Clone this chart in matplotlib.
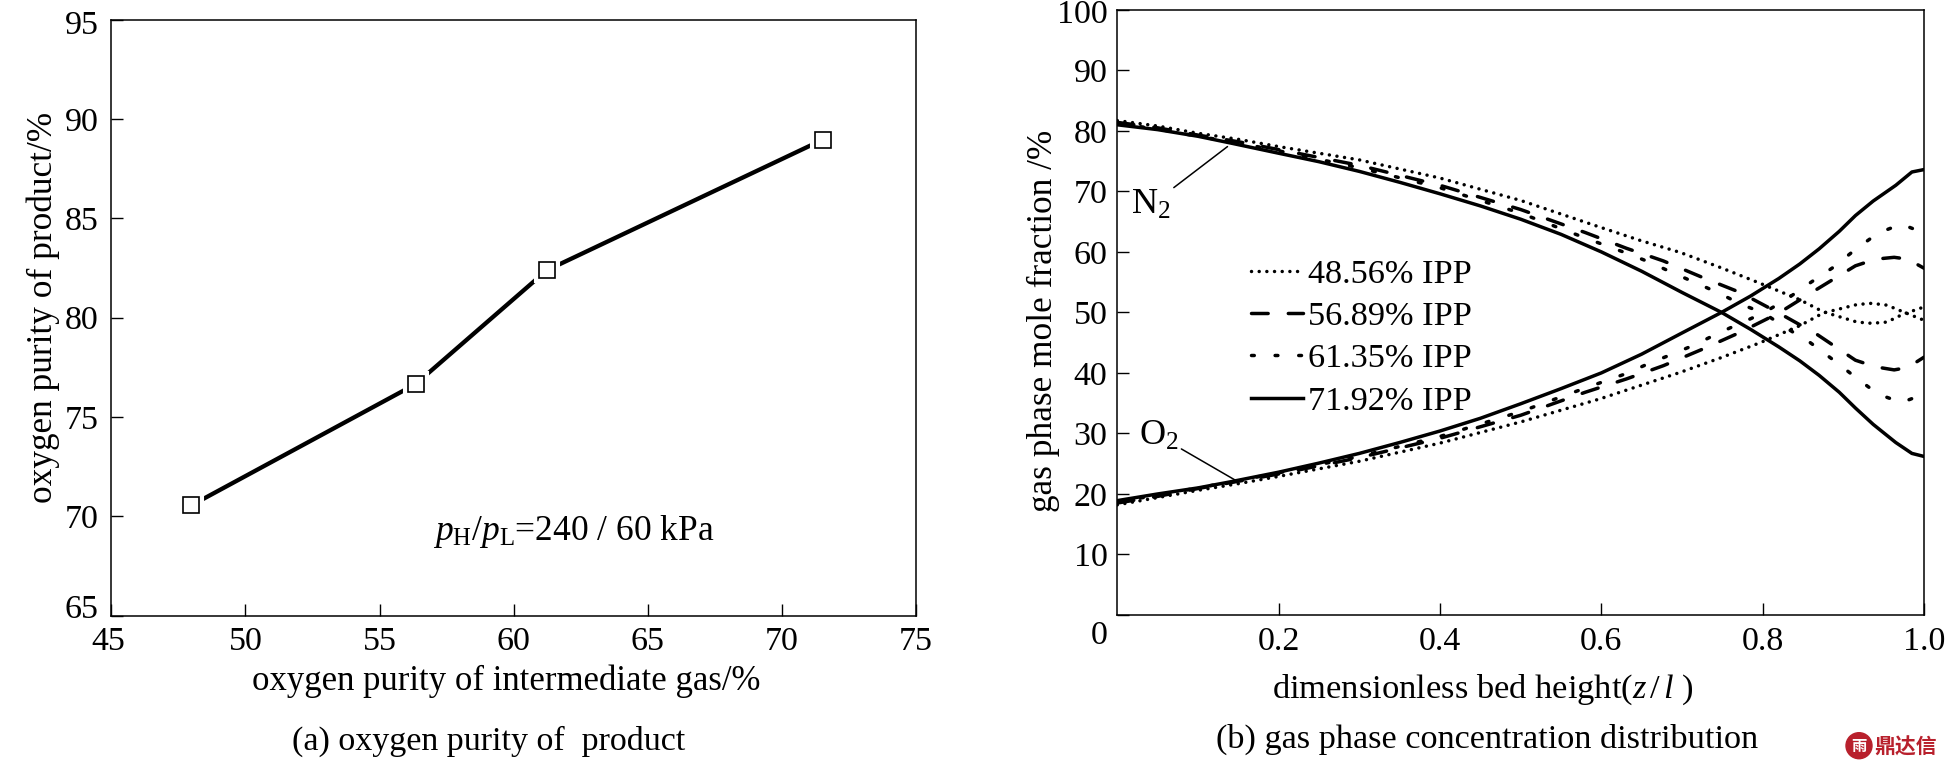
import matplotlib
matplotlib.use("Agg")
from matplotlib import pyplot as plt
from matplotlib.patches import Circle
from matplotlib.transforms import ScaledTranslation

plt.rcParams['font.family'] = ['Liberation Serif', 'Noto Sans CJK SC']
plt.rcParams['mathtext.fontset'] = 'custom'
plt.rcParams['mathtext.rm'] = 'Liberation Serif'
plt.rcParams['mathtext.it'] = 'Liberation Serif:italic'

W, H = 1948, 768

# (a) oxygen purity of product
inter_o2 = [47.98, 56.35, 61.23, 71.53]
product_o2 = [70.55, 76.66, 82.38, 88.96]

# (b) 48.56% IPP
x_486_n2 = [0.0, 0.05, 0.1, 0.15, 0.2, 0.3, 0.4, 0.5, 0.598, 0.648, 0.698, 0.748, 0.797, 0.846, 0.875, 0.917, 0.935, 0.954, 0.974, 1.0]
n2_486 = [81.7, 80.8, 79.6, 78.6, 77.4, 75.2, 72.2, 68.5, 64.1, 61.9, 59.9, 57.4, 54.8, 52.1, 50.1, 48.4, 48.2, 48.4, 49.7, 50.9]
o2_486 = [18.2, 19.4, 20.6, 21.7, 22.9, 25.4, 28.4, 31.9, 35.7, 37.9, 40.1, 42.5, 45.0, 47.8, 49.9, 51.3, 51.5, 51.2, 50.1, 48.7]

# (b) 56.89% IPP
x_569 = [0.0, 0.05, 0.1, 0.15, 0.2, 0.3, 0.4, 0.5, 0.58, 0.631, 0.677, 0.725, 0.772, 0.82, 0.867, 0.915, 0.94, 0.963, 0.98, 1.0]
n2_569 = [81.4, 80.5, 79.3, 78.2, 76.9, 74.3, 71.0, 67.0, 63.2, 60.6, 58.5, 55.8, 53.3, 49.9, 46.4, 42.1, 41.0, 40.5, 40.9, 42.6]
o2_569 = [18.5, 19.6, 20.9, 22.1, 23.3, 26.0, 29.2, 33.0, 36.8, 39.0, 41.2, 43.9, 46.7, 49.9, 53.8, 57.7, 58.8, 59.1, 58.8, 57.3]

# (b) 61.35% IPP
x_613 = [0.0, 0.05, 0.1, 0.15, 0.2, 0.3, 0.4, 0.5, 0.58, 0.629, 0.658, 0.686, 0.715, 0.744, 0.774, 0.801, 0.832, 0.859, 0.887, 0.915, 0.943, 0.972, 1.0]
n2_613 = [81.2, 80.3, 79.1, 78.0, 76.7, 73.9, 70.6, 66.4, 62.3, 59.9, 58.4, 56.7, 55.0, 53.3, 51.3, 49.9, 47.2, 45.0, 42.2, 39.3, 36.5, 35.1, 36.5]
o2_613 = [18.7, 19.8, 21.0, 22.2, 23.5, 26.2, 29.5, 33.6, 37.5, 39.8, 41.5, 43.0, 44.6, 46.5, 48.3, 49.9, 52.4, 54.9, 57.4, 60.4, 63.1, 64.6, 63.1]

# (b) 71.92% IPP
x_719 = [0.0, 0.05, 0.1, 0.14, 0.2, 0.25, 0.3, 0.35, 0.4, 0.45, 0.5, 0.55, 0.6, 0.65, 0.7, 0.749, 0.785, 0.82, 0.846, 0.87, 0.895, 0.915, 0.937, 0.965, 0.985, 1.0]
n2_719 = [81.0, 80.2, 79.1, 78.0, 76.3, 74.9, 73.3, 71.5, 69.6, 67.6, 65.4, 62.9, 60.0, 56.8, 53.3, 50.0, 47.2, 44.3, 42.0, 39.6, 36.8, 34.2, 31.5, 28.5, 26.7, 26.2]
o2_719 = [18.9, 20.0, 21.0, 22.0, 23.6, 25.1, 26.7, 28.5, 30.4, 32.5, 34.9, 37.4, 40.0, 43.1, 46.6, 50.0, 52.7, 55.6, 58.0, 60.5, 63.4, 66.0, 68.4, 71.0, 73.2, 73.6]

left_xticks = [45, 50, 55, 60, 65, 70, 75]
left_yticks = [65, 70, 75, 80, 85, 90, 95]
right_xticks = [0.2, 0.4, 0.6, 0.8, 1.0]
right_yticks = [0, 10, 20, 30, 40, 50, 60, 70, 80, 90, 100]


def axes_px(fig, left, top, right, bottom):
    return fig.add_axes([left / W, 1 - bottom / H, (right - left) / W, (bottom - top) / H])


def text_px(fig, x, y, s, **kw):
    fig.text(x / W, 1 - y / H, s, ha='center', va='center', **kw)


def shift_label(fig, label, dx, dy):
    # move one tick label by some pixels
    label.set_transform(label.get_transform() + ScaledTranslation(dx / fig.dpi, -dy / fig.dpi, fig.dpi_scale_trans))


fig = plt.figure(figsize=(W / 100, H / 100), dpi=100)

# left panel
ax1 = axes_px(fig, 111.3, 19.6, 916, 615.7)
ax1.plot(inter_o2, product_o2, color='k', lw=3.1, solid_capstyle='butt', zorder=2)
ax1.plot(inter_o2, product_o2, ls='none', marker='s', ms=17, mfc='w', mec='w', mew=1.5, zorder=3)
ax1.plot(inter_o2, product_o2, ls='none', marker='s', ms=11.2, mfc='w', mec='k', mew=1.2, zorder=4)
ax1.set_xlim(45, 75)
ax1.set_ylim(65, 95)
ax1.set_xticks(left_xticks)
ax1.set_yticks(left_yticks)
ax1.tick_params(direction='in', length=8.6, width=1, labelsize=24.5)
ax1.tick_params(axis='x', pad=8)
ax1.tick_params(axis='y', pad=9)
shift_label(fig, ax1.get_yticklabels()[0], 0, -9)
shift_label(fig, ax1.get_yticklabels()[-1], 0, 3)
shift_label(fig, ax1.get_xticklabels()[0], -3, 0)
ax1.text(0.40, 0.142, r'$p_{\mathrm{H}}/p_{\mathrm{L}}$=240 / 60 kPa', transform=ax1.transAxes,
         fontsize=25.5, ha='left', va='center')

# right panel
ax2 = axes_px(fig, 1117.3, 9.8, 1924, 615)
dot = (0, (0.01, 2.2))
dash = (0, (4.8, 5.8))
dot_dash = (0, (0.8, 6.0))
common = dict(color='k', lw=2.5)

ax2.plot(x_486_n2, n2_486, ls=dot, dash_capstyle='round', label='48.56% IPP', **common)
ax2.plot(x_486_n2, o2_486, ls=dot, dash_capstyle='round', **common)
ax2.plot(x_569, n2_569, ls=dash, dash_capstyle='round', label='56.89% IPP', **common)
ax2.plot(x_569, o2_569, ls=dash, dash_capstyle='round', **common)
ax2.plot(x_613, n2_613, ls=dot_dash, dash_capstyle='round', label='61.35% IPP', **common)
ax2.plot(x_613, o2_613, ls=dot_dash, dash_capstyle='round', **common)
ax2.plot(x_719, n2_719, ls='-', label='71.92% IPP', **common)
ax2.plot(x_719, o2_719, ls='-', **common)

ax2.set_xlim(0, 1)
ax2.set_ylim(0, 100)
ax2.set_xticks(right_xticks)
ax2.set_xticklabels(['0.2', '0.4', '0.6', '0.8', '1.0'])
ax2.set_yticks(right_yticks)
ax2.tick_params(direction='in', length=8.6, width=1, labelsize=24.5)
ax2.tick_params(axis='x', pad=8)
ax2.tick_params(axis='y', pad=7)
shift_label(fig, ax2.get_yticklabels()[0], 0, 17)
shift_label(fig, ax2.get_yticklabels()[-1], 0, 1)

ax2.annotate(r'N$_2$', xy=(0.1366, 77.4), xytext=(0.0666, 70.5), fontsize=26, ha='right', va='top',
             arrowprops=dict(arrowstyle='-', color='k', lw=1.1, shrinkA=0, shrinkB=0))
ax2.annotate(r'O$_2$', xy=(0.146, 22.3), xytext=(0.076, 29.6), fontsize=26, ha='right', va='center',
             arrowprops=dict(arrowstyle='-', color='k', lw=1.1, shrinkA=0, shrinkB=0))

ax2.legend(loc='upper left', bbox_to_anchor=(0.166, 0.589), frameon=False, fontsize=24.7, borderpad=0,
           borderaxespad=0, handlelength=1.5, handletextpad=0.15, labelspacing=0.33)

for ax in (ax1, ax2):
    for spine in ax.spines.values():
        spine.set_linewidth(1.1)

# axis labels and captions
text_px(fig, 506, 681, 'oxygen purity of intermediate gas/%', fontsize=25)
text_px(fig, 43, 307, 'oxygen purity of product/%', fontsize=25.4, rotation=90)
text_px(fig, 489, 741, '(a) oxygen purity of  product', fontsize=24.5)
text_px(fig, 1483, 690, r'dimensionless bed height($z\,/\,l$ )', fontsize=24.8)
text_px(fig, 1043, 321, 'gas phase mole fraction /%', fontsize=25.4, rotation=90)
text_px(fig, 1487, 739, '(b) gas phase concentration distribution', fontsize=24.7)

# watermark
fig.add_artist(Circle((1859, H - 745.7), 13, transform=None, color='#b8202c'))
text_px(fig, 1859, 745.7, '雨', fontsize=11, color='w', family=['Noto Sans CJK SC'], fontweight='bold')
text_px(fig, 1906, 746.7, '鼎达信', fontsize=15, color='#b8202c', family=['Noto Sans CJK SC'], fontweight='bold')

fig.savefig('out.png', dpi=100)
